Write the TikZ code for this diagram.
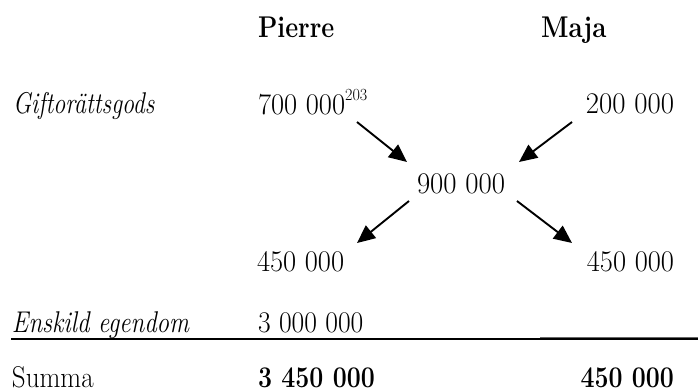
\documentclass[tikz,border=0pt]{standalone}
\usepackage{fontspec}
\usetikzlibrary{arrows.meta,calc}
\newcommand\hsq[2]{\scalebox{#1}[1]{#2}}
\begin{document}
\begin{tikzpicture}[x=1pt,y=-1pt,
  txt/.style={inner sep=0pt, outer sep=0pt, anchor=base west, font=\fontsize{30}{34}\selectfont},
  txtr/.style={txt, anchor=base east},
  bld/.style={font=\fontsize{30}{34}\selectfont\bfseries},
  itl/.style={font=\fontsize{30}{34}\selectfont\itshape},
  flow/.style={line width=1.9pt, -{Triangle[length=18pt,width=16pt]}},
  rule/.style={line width=2pt},
  thinrule/.style={line width=0.9pt, black!60}]
\path[use as bounding box] (0,0) rectangle (698,391);
% headers
\node[txt,bld] (hp) at (258,37) {\hsq{0.84}{Pierre}};
\node[txt,bld] (hm) at (541,37) {\hsq{0.86}{Maja}};
% row labels
\node[txt,itl] (lg) at (13,113) {\hsq{0.80}{Giftorättsgods}};
\node[txt,itl] (le) at (12,332) {\hsq{0.83}{Enskild egendom}};
\node[txt] (ls) at (12,387) {\hsq{0.90}{Summa}};
% values
\node[txt] (p1) at (258,114) {\hsq{0.95}{700 000}\raisebox{14pt}{\fontsize{17}{17}\selectfont\hsq{0.95}{203}}};
\node[txtr] (m1) at (674,113) {\hsq{0.96}{200 000}};
\node[txt] (mid) at (417,193) {\hsq{0.96}{900 000}};
\node[txt] (p2) at (257,271) {\hsq{0.95}{450 000}};
\node[txtr] (m2) at (674,271) {\hsq{0.95}{450 000}};
\node[txt] (p3) at (258,332) {\hsq{0.92}{3 000 000}};
\node[txt,bld] (p4) at (258,387) {\hsq{0.83}{3 450 000}};
\node[txtr,bld] (m4) at (674,387) {\hsq{0.83}{450 000}};
% arrows
\draw[flow] ($(p1.base west)+(99,8)$) -- ($(mid.base west)+(-10,-31)$);
\draw[flow] ($(m1.base east)+(-102,9)$) -- ($(mid.base west)+(102,-31)$);
\draw[flow] ($(mid.base west)+(-8,8)$) -- ($(p2.base west)+(100,-28)$);
\draw[flow] ($(mid.base west)+(100,8)$) -- ($(m2.base east)+(-102,-28)$);
% rules
\coordinate (rl) at (11,339);
\coordinate (rr) at (698,339);
\coordinate (gl) at (540,337);
\coordinate (gr) at (698,337);
\draw[thinrule] (gl) -- (gr);
\draw[rule] (rl) -- (rr);
\end{tikzpicture}
\end{document}
